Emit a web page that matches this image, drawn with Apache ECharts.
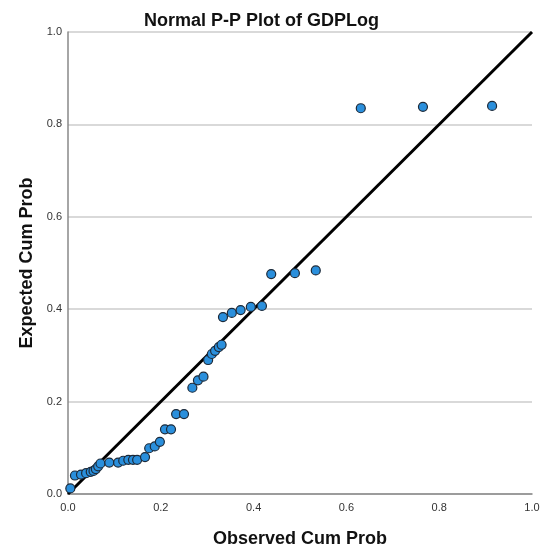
<!DOCTYPE html>
<html>
<head>
<meta charset="utf-8">
<script src="https://cdn.jsdelivr.net/npm/echarts@6/dist/echarts.min.js"></script>
<style>
  html, body { margin: 0; padding: 0; background: #fff; }
  #grafico { width: 543px; height: 556px; }
</style>
</head>
<body>
<div id="grafico"></div>
<script>
// Observed cumulative probability (x)
const observadoCum = [
    0.005, 0.015, 0.028, 0.039, 0.049, 0.055, 0.060, 0.065, 0.070, 0.089,
    0.108, 0.119, 0.130, 0.140, 0.149, 0.166, 0.175, 0.187, 0.198, 0.209,
    0.222, 0.233, 0.250, 0.268, 0.280, 0.292, 0.302, 0.310, 0.317, 0.325,
    0.331, 0.334, 0.353, 0.372, 0.394, 0.418, 0.438, 0.489, 0.534, 0.631,
    0.765, 0.914
];
// Expected cumulative probability (y)
const esperadoCum = [
    0.012, 0.040, 0.042, 0.045, 0.048, 0.050, 0.054, 0.060, 0.066, 0.068,
    0.068, 0.072, 0.074, 0.074, 0.074, 0.080, 0.099, 0.103, 0.113, 0.140,
    0.140, 0.173, 0.173, 0.230, 0.246, 0.254, 0.290, 0.303, 0.310, 0.318,
    0.323, 0.383, 0.392, 0.398, 0.405, 0.407, 0.476, 0.478, 0.484, 0.835,
    0.838, 0.840
];
// Reference diagonal
const lineaRef = [[0, 0], [1, 1]];

const puntos = observadoCum.map((x, i) => [x, esperadoCum[i]]);

const chart = echarts.init(document.getElementById('grafico'));
const fuente = 'Liberation Sans, Arial, sans-serif';

chart.setOption({
    animation: false,
    title: {
        text: 'Normal P-P Plot of GDPLog',
        left: 139,
        top: 7,
        textStyle: { fontFamily: fuente, fontSize: 18, fontWeight: 'bold', color: '#111' }
    },
    grid: { left: 68, right: 11, top: 32, bottom: 62 },
    xAxis: {
        type: 'value',
        min: 0, max: 1, interval: 0.2,
        name: 'Observed Cum Prob',
        nameLocation: 'middle',
        nameGap: 36,
        nameTextStyle: { fontFamily: fuente, fontSize: 18, fontWeight: 'bold', color: '#111' },
        axisLine: { show: true, lineStyle: { color: '#888', width: 1.5 } },
        axisTick: { show: false },
        splitLine: { show: false },
        axisLabel: {
            margin: 8,
            fontFamily: fuente, fontSize: 11, color: '#333',
            formatter: v => v.toFixed(1)
        }
    },
    yAxis: {
        type: 'value',
        min: 0, max: 1, interval: 0.2,
        name: 'Expected Cum Prob',
        nameLocation: 'middle',
        nameGap: 31,
        nameTextStyle: { fontFamily: fuente, fontSize: 18, fontWeight: 'bold', color: '#111' },
        axisLine: { show: true, lineStyle: { color: '#888', width: 1.5 } },
        axisTick: { show: false },
        splitLine: { show: true, lineStyle: { color: '#ccc', width: 1.5 } },
        axisLabel: {
            margin: 6,
            fontFamily: fuente, fontSize: 11, color: '#333',
            formatter: v => v.toFixed(1)
        }
    },
    series: [
        {
            type: 'line',
            data: lineaRef,
            symbol: 'none',
            lineStyle: { color: '#000', width: 3 },
            z: 3
        },
        {
            type: 'scatter',
            data: puntos,
            symbol: 'circle',
            symbolSize: 9,
            itemStyle: { color: '#2a8fdc', borderColor: '#1c2a3a', borderWidth: 1.2, opacity: 1 },
            z: 4
        }
    ]
});
</script>
</body>
</html>
